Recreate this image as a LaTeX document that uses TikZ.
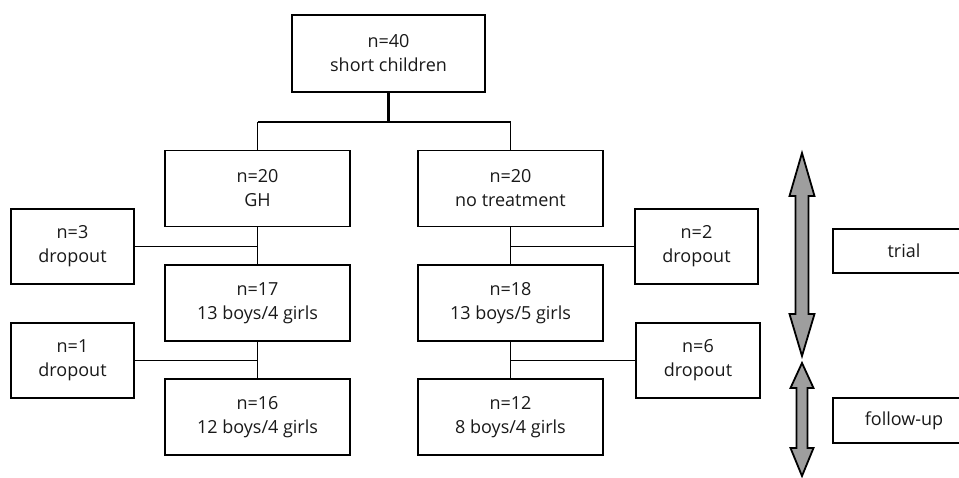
\documentclass[tikz,border=0pt]{standalone}
\usepackage{fontspec}
\setmainfont{Open Sans}
\begin{document}
\begin{tikzpicture}[x=1pt,y=-1pt,
  txt/.style={text=black!90, font=\fontsize{18}{24}\selectfont, align=center, inner sep=0pt},
  box/.style={txt, draw=black, line width=1.8pt, rectangle, minimum width=185pt, minimum height=76pt},
  dbox/.style={box, minimum width=123pt, minimum height=75pt},
  sbox/.style={txt, draw=black, line width=1.8pt, rectangle, minimum width=142pt, minimum height=44pt},
  conn/.style={draw=black, line width=1.5pt},
  bigarrow/.style={draw=black, fill=black!38, line width=1.8pt, line join=miter}]
\useasboundingbox (0,0) rectangle (959,477);
\clip (0,0) rectangle (959,477);
\node[box, minimum width=193pt, minimum height=77pt] (top) at (388.5,53.5) {n=40\\short children};
\node[box] (gh) at (257.5,188.5) {n=20\\GH};
\node[box] (nt) at (510.5,188.5) {n=20\\no treatment};
\node[dbox] (d3) at (72.5,246.5) {n=3\\dropout};
\node[dbox] (d2) at (696.5,246.5) {n=2\\dropout};
\node[box] (n17) at (257.5,303) {n=17\\13 boys/4 girls};
\node[box] (n18) at (510.5,303) {n=18\\13 boys/5 girls};
\node[dbox] (d1) at (72.5,360.5) {n=1\\dropout};
\node[dbox, minimum width=124pt] (d6) at (698,360.5) {n=6\\dropout};
\node[box] (n16) at (257.5,417) {n=16\\12 boys/4 girls};
\node[box] (n12) at (510.5,417) {n=12\\8 boys/4 girls};
\node[sbox] (trial) at (904,251) {trial};
\node[sbox, minimum height=45pt] (fu) at (904,420.5) {follow-up};
\coordinate (split) at (388.5,122);
\coordinate (splitL) at (gh.north |- split);
\coordinate (splitR) at (nt.north |- split);
\draw[conn, line width=2.3pt] (top.south) -- (split);
\draw[conn] (splitL) -- (splitR);
\draw[conn] (splitL) -- (gh.north);
\draw[conn] (splitR) -- (nt.north);
\draw[conn] (gh.south) -- (n17.north);
\draw[conn] (nt.south) -- (n18.north);
\draw[conn] (n17.south) -- (n16.north);
\draw[conn] (n18.south) -- (n12.north);
\draw[conn] (d3.east) -- (gh.south |- d3.east);
\draw[conn] (d2.west) -- (nt.south |- d2.west);
\draw[conn] (d1.east) -- (n17.south |- d1.east);
\draw[conn] (d6.west) -- (n18.south |- d6.west);
% trial double arrow
\draw[bigarrow] (802,153) -- (814.5,196) -- (808.5,196) -- (808.5,314) -- (814.5,314)
  -- (802,356) -- (789.5,314) -- (795.5,314) -- (795.5,196) -- (789.5,196) -- cycle;
% follow-up double arrow
\draw[bigarrow] (802,363) -- (813.5,388) -- (807.5,388) -- (807.5,448) -- (813.5,448)
  -- (802,476) -- (790.5,448) -- (796.5,448) -- (796.5,388) -- (790.5,388) -- cycle;
\end{tikzpicture}
\end{document}
